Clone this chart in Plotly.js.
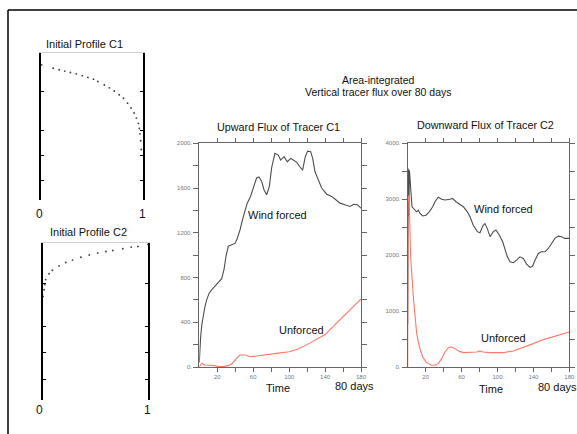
<!DOCTYPE html>
<html>
<head>
<meta charset="utf-8">
<script src="https://cdn.plot.ly/plotly-3.0.1.min.js"></script>
<style>html,body{margin:0;padding:0;background:#fff;}#chart{width:577px;height:434px;}</style>
</head>
<body>
<div id="chart"></div>
<script>
// ---- Initial profile C1 (concentration vs. normalised depth) ----
const c1Conc  = [0.006,0.12,0.178,0.233,0.288,0.346,0.405,0.46,0.515,0.557,0.621,0.67,0.718,0.767,0.809,0.848,0.883,0.913,0.935,0.955,0.964,0.971,0.977,0.983];
const c1Depth = [0.081,0.104,0.114,0.123,0.133,0.142,0.154,0.166,0.178,0.194,0.218,0.237,0.258,0.284,0.308,0.341,0.374,0.408,0.443,0.479,0.514,0.55,0.597,0.656];
// ---- Initial profile C2 ----
const c2Conc  = [1.0,0.904,0.84,0.76,0.665,0.6,0.521,0.441,0.361,0.281,0.217,0.153,0.089,0.058,0.026,0.016,0.01,0.0];
const c2Depth = [0.009,0.022,0.026,0.037,0.048,0.054,0.063,0.076,0.091,0.109,0.124,0.146,0.174,0.196,0.233,0.265,0.298,0.341];

// ---- Upward flux of tracer C1 ----
const upTime = [0,0.5,1.5,3,4.5,6.3,8.2,11,13.7,17.4,21,24.9,27.5,29.7,32.3,36,39.7,41.6,45.3,49,53.4,57,60,63.8,66.4,69.4,72,75,78,80.5,84.2,88,90.5,94.3,98,101.7,104.6,108.4,112,115,118,120.6,124,126.2,128.8,132.5,136.2,141.8,147.3,152,156.6,162,167.7,172,176,180];
const upWind = [40,200,271,390,470,540,600,660,690,720,750,790,870,990,1080,1090,1105,1135,1225,1345,1465,1525,1600,1690,1700,1660,1585,1540,1615,1780,1910,1895,1850,1880,1835,1865,1850,1830,1790,1760,1880,1930,1925,1865,1745,1670,1600,1545,1525,1495,1465,1450,1435,1455,1450,1420];
const upUnfTime = [0,2.6,6.3,11.9,17.4,21,26.7,32.3,36,41.6,45.3,50.8,56.4,63.8,75,86,100,110,120,130,140,150,160,170,180];
const upUnf     = [0,33,18,18,12,3,3,12,27,78,107,107,92,98,113,122,137,160,200,245,290,370,450,530,608];

// ---- Downward flux of tracer C2 ----
const dnTime = [0,0.6,1.2,1.9,2.6,3.3,4,4.8,6.3,8.2,10,11.9,13.7,16.7,20.4,24,27.8,30.4,34,37.8,41.6,47,50,53.8,57.5,62,66.4,69.4,73,77.6,80.5,84,86,88.7,91.7,95.4,98.3,102,105.8,108.4,111,114,117.6,121.3,125,128.8,132.5,136.2,139,141.8,145.5,149,152.9,156.6,160.3,164,167.7,171.4,175,180];
const dnWind = [780,3550,2700,3520,3300,3220,3045,2865,2835,2805,2775,2805,2745,2700,2715,2775,2865,2955,3035,3000,2985,3000,3015,2955,2907,2865,2775,2685,2535,2420,2400,2535,2565,2475,2330,2420,2450,2360,2240,2090,1970,1880,1865,1910,1970,1940,1840,1780,1800,1910,2030,2060,2060,2120,2220,2300,2340,2330,2300,2300];
const dnUnfTime = [0,0.3,1.5,3.3,6.3,8.2,10,13,16.7,21,26.7,30.4,34,37.8,41.6,45.3,49,52.7,56.4,62,69.4,77,80.5,84,91.7,106.5,117.6,128.8,140,151,162,171.4,180];
const dnUnf     = [0,3000,3075,1970,1250,895,597,358,179,78,30,30,60,149,269,346,358,328,287,257,257,269,287,269,257,257,287,346,418,490,537,585,627];

// ---- tick labels ----
const upYTicks = [0,200,400,600,800,1000,1200,1400,1600,1800,2000];
const upYText  = ['0.','','400.','','800.','','1200.','','1600.','','2000.'];
const dnYTicks = [0,500,1000,1500,2000,2500,3000,3500,4000];
const dnYText  = ['0.','','1000.','','2000.','','3000.','','4000.'];
const tTicks   = [20,40,60,80,100,120,140,160,180];
const tText    = ['20','','60','','100','','140','','180'];

const W = 577, H = 434;
const px = x => x / W;
const py = y => 1 - y / H;
const FONT = "'Liberation Sans',Arial,Helvetica,sans-serif";
const GRAY = '#4d4d4d', RED = '#ff7866';

const traces = [
  {x: c1Conc, y: c1Depth, xaxis:'x', yaxis:'y', mode:'markers', marker:{size:1.9, color:'#444'}, cliponaxis:false, hoverinfo:'skip'},
  {x: c2Conc, y: c2Depth, xaxis:'x2', yaxis:'y2', mode:'markers', marker:{size:1.9, color:'#444'}, cliponaxis:false, hoverinfo:'skip'},
  {x: upTime, y: upWind, xaxis:'x3', yaxis:'y3', mode:'lines', line:{color:GRAY, width:1.1}},
  {x: upUnfTime, y: upUnf, xaxis:'x3', yaxis:'y3', mode:'lines', line:{color:RED, width:1.1}},
  {x: dnTime, y: dnWind, xaxis:'x4', yaxis:'y4', mode:'lines', line:{color:GRAY, width:1.1}},
  {x: dnUnfTime, y: dnUnf, xaxis:'x4', yaxis:'y4', mode:'lines', line:{color:RED, width:1.1}}
];

function profX(dom, anchor){
  return {domain:dom, anchor:anchor, range:[0,1], side:'top', showline:true, linecolor:'#d0d0d0', linewidth:1,
          ticks:'', showticklabels:false, showgrid:false, zeroline:false};
}
function profY(dom, anchor){
  return {domain:dom, anchor:anchor, range:[1,0], showline:true, linecolor:'#000', linewidth:2, mirror:'ticks',
          ticks:'inside', ticklen:3, tickcolor:'#000', tickvals:[0.26,0.53,0.7,0.87], showticklabels:false,
          showgrid:false, zeroline:false};
}
function fluxX(dom, anchor){
  return {domain:dom, anchor:anchor, range:[0,180], showline:true, linecolor:'#666', linewidth:1, mirror:'ticks',
          ticks:'outside', ticklen:4, tickcolor:'#666', tickvals:tTicks, ticktext:tText,
          tickfont:{size:6, color:'#777', family:FONT}, showgrid:false, zeroline:false};
}
function fluxY(dom, anchor, vals, txt, rng){
  return {domain:dom, anchor:anchor, range:rng, showline:true, linecolor:'#666', linewidth:1, mirror:'ticks',
          ticks:'outside', ticklen:5, tickcolor:'#666', tickvals:vals, ticktext:txt,
          tickfont:{size:6, color:'#777', family:FONT}, showgrid:false, zeroline:false};
}

function ann(text, x, y, size){
  return {text:text, x:px(x), y:py(y), xref:'paper', yref:'paper', showarrow:false,
          xanchor:'center', yanchor:'middle', font:{family:FONT, size:size, color:'#111'}};
}

const layout = {
  width:W, height:H, margin:{l:0,r:0,t:0,b:0}, paper_bgcolor:'#fff', plot_bgcolor:'rgba(0,0,0,0)',
  showlegend:false,
  xaxis:  profX([px(41),px(143)], 'y'),
  yaxis:  profY([py(200),py(53)], 'x'),
  xaxis2: profX([px(43),px(148)], 'y2'),
  yaxis2: profY([py(400),py(243)], 'x2'),
  xaxis3: fluxX([px(199.3),px(361)], 'y3'),
  yaxis3: fluxY([py(367),py(143.3)], 'x3', upYTicks, upYText, [0,2000]),
  xaxis4: fluxX([px(407.7),px(569.3)], 'y4'),
  yaxis4: fluxY([py(367),py(143.3)], 'x4', dnYTicks, dnYText, [0,4000]),
  shapes: [
    {type:'line', xref:'paper', yref:'paper', x0:px(8), x1:px(580), y0:py(10), y1:py(10), line:{color:'#000', width:1.5}},
    {type:'line', xref:'paper', yref:'paper', x0:px(8), x1:px(8), y0:py(10), y1:py(440), line:{color:'#000', width:1.5}}
  ],
  annotations: [
    ann('Initial Profile C1', 84, 44, 11),
    ann('Initial Profile C2', 88, 232, 11),
    ann('0', 39, 214, 12), ann('1', 142, 214, 12),
    ann('0', 39, 410, 12), ann('1', 147, 410, 12),
    ann('Area-integrated', 378, 80, 10.5),
    ann('Vertical tracer flux over 80 days', 378, 92, 10.5),
    ann('Upward Flux of Tracer C1', 278, 127, 10.8),
    ann('Downward Flux of Tracer C2', 485, 125, 10.8),
    ann('Wind forced', 277, 215, 11),
    ann('Unforced', 301, 330, 11),
    ann('Wind forced', 503, 209, 11),
    ann('Unforced', 503, 338, 11),
    ann('Time', 278, 388, 11),
    ann('Time', 491, 389, 11),
    ann('80 days', 354, 386, 11),
    ann('80 days', 557, 387, 11)
  ]
};

Plotly.newPlot('chart', traces, layout, {displayModeBar:false, staticPlot:true});
</script>
</body>
</html>
